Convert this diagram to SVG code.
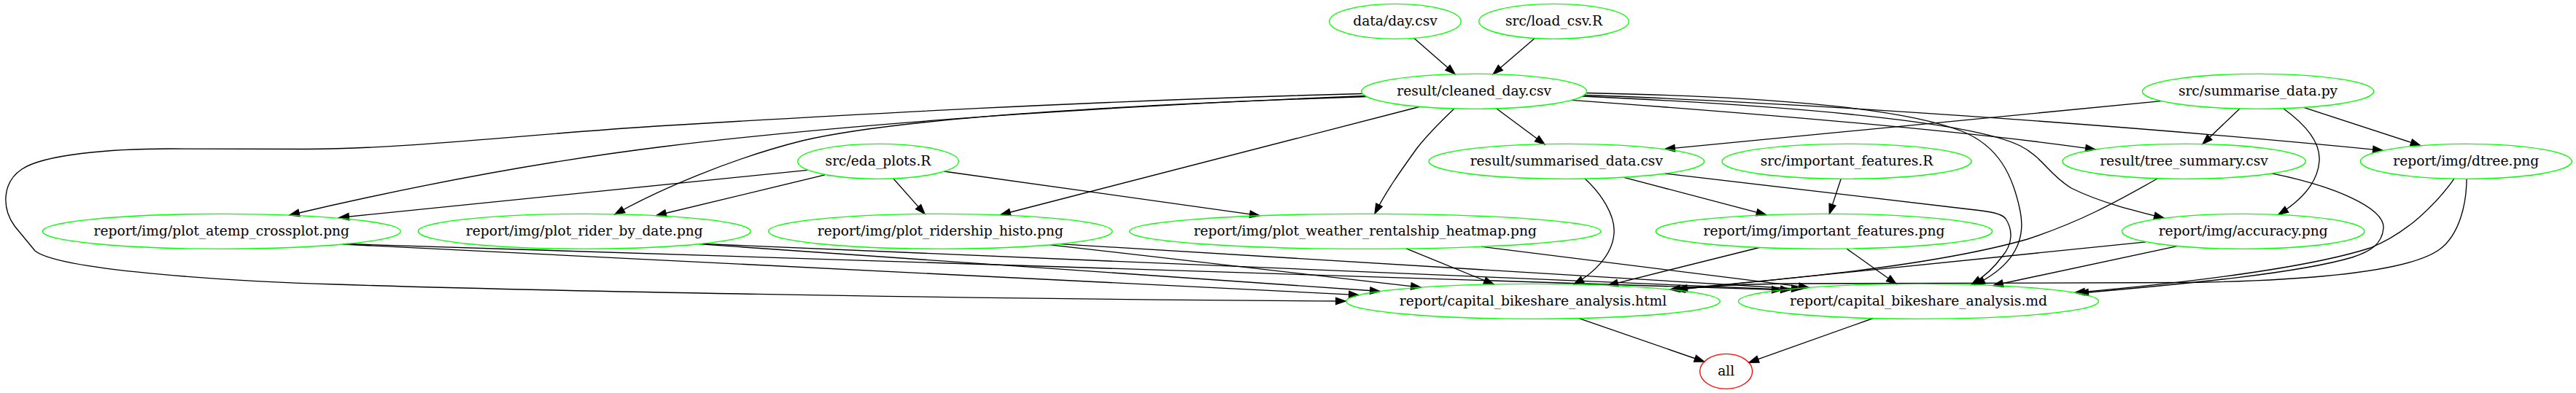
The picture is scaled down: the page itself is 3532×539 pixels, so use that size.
<svg xmlns="http://www.w3.org/2000/svg" width="3532" height="539" viewBox="0 0 3532 539">
<style>
.node ellipse{fill:none;stroke:#00ff00;stroke-width:1.33}
.node.red ellipse{stroke:#ff0000}
.node text{font-family:"DejaVu Serif",serif;font-size:18.67px;text-anchor:middle;fill:#000}
.edges path{fill:none;stroke:#000;stroke-width:1.33;marker-end:url(#arrow)}
</style>
<defs>
<marker id="arrow" markerUnits="userSpaceOnUse" markerWidth="16" markerHeight="12" refX="13.33" refY="4.67" orient="auto" overflow="visible">
<path d="M0,0 L13.33,4.67 L0,9.33 Z" fill="#000" stroke="#000" stroke-width="1.33"/>
</marker>
</defs>
<rect width="3532" height="539" fill="#fff"/>
<g class="edges">
<path d="M1939,52.4 L1995,101.6"/>
<path d="M2104.3,52.4 L2047.3,101.6"/>
<path d="M2052,149 L2118,198"/>
<path d="M1994,149 C1975,167 1958,184 1943,203 C1920,235 1900,263 1885,293"/>
<path d="M1946,146.5 L1372,294.5"/>
<path d="M1872,131.5 C1600,142 1200,165 910,201 C700,227 520,266 397,295"/>
<path d="M1874,132.5 C1600,142 1250,158 1100,193 C1000,218 900,262 843,294"/>
<path d="M1868,128.5 C1500,138 1150,158 900,173 C700,186 560,204 420,204.5 L233,204 C150,204 60,212 30,232 C3,250 2,285 20,310 L48,344 C80,370 300,385 460,390 C700,398 1300,410 1845,413"/>
<path d="M1107,233.4 L465,298.5"/>
<path d="M1131,239.9 L900,295.5"/>
<path d="M1225,245 L1268,293.6"/>
<path d="M1294.3,235 L1727,295.6"/>
<path d="M2963,138.7 L2283,204.4"/>
<path d="M3071,149 L3020,197.5"/>
<path d="M3158.7,147.3 L3318.7,199.6"/>
<path d="M3131,149 C3160,170 3182,195 3180,221 C3178,250 3155,275 3124,294.3"/>
<path d="M2155,137.3 C2400,155 2700,180 2873,205"/>
<path d="M2172,130.5 C2450,140 2900,170 3267,206.3"/>
<path d="M2170,132 C2450,145 2700,165 2770,200 C2800,215 2810,240 2840,258 C2880,278 2930,290 2967,299"/>
<path d="M2175,127.5 C2400,132 2600,145 2690,180 C2740,200 2760,240 2770,290 C2778,330 2760,365 2708,390.5"/>
<path d="M2226.7,243.3 L2421.7,294.7"/>
<path d="M2524.3,245 L2508.3,293.4"/>
<path d="M2173,245 C2195,265 2215,295 2213,320 C2211,350 2185,375 2158,389.9"/>
<path d="M2283,238 L2700,287 C2730,290 2745,293 2750,300 C2760,315 2760,335 2745,352 C2735,366 2720,380 2703,390.4"/>
<path d="M2985,337.6 L2733,391.5"/>
<path d="M2942,331.8 L2297,397.7"/>
<path d="M2958,245 C2900,278 2850,305 2780,328 C2650,365 2450,383 2290,397"/>
<path d="M3115,237.8 C3200,255 3270,285 3268,313 C3266,335 3250,345 3225,353 C3140,378 2950,393 2850,402.3"/>
<path d="M3365,245.2 C3340,280 3300,320 3250,340 C3150,372 2950,392 2845,401.4"/>
<path d="M3382,245.3 C3382,280 3372,322 3345,342 C3300,375 3150,385 3000,387.5 L2450,389 C2380,390 2330,393 2300,397.3"/>
<path d="M470,335 L1863,404.6"/>
<path d="M475,334.5 L2443,397.7"/>
<path d="M958,334.7 L1892,399.5"/>
<path d="M963,334.4 L2455,397.5"/>
<path d="M1440,335.8 L1948,394.1"/>
<path d="M1453,334.6 L2470,396.5"/>
<path d="M1928,340.9 L2048,389.8"/>
<path d="M2031,338.2 L2480,394.3"/>
<path d="M2412.3,339.5 L2205,391.3"/>
<path d="M2532,341.1 L2600,389.5"/>
<path d="M2165,436.6 L2336.7,496"/>
<path d="M2568.3,436.5 L2398,497.2"/>
</g>
<g id="n_data_day" class="node"><ellipse cx="1913" cy="29.3" rx="90.3" ry="24"/><text x="1913" y="35.3">data/day.csv</text></g>
<g id="n_load_csv" class="node"><ellipse cx="2130.5" cy="29.3" rx="102.8" ry="24"/><text x="2130.5" y="35.3">src/load_csv.R</text></g>
<g id="n_cleaned" class="node"><ellipse cx="2021.2" cy="125.3" rx="154.5" ry="24"/><text x="2021.2" y="131.3">result/cleaned_day.csv</text></g>
<g id="n_summarise_py" class="node"><ellipse cx="3096" cy="125.3" rx="158.7" ry="24"/><text x="3096" y="131.3">src/summarise_data.py</text></g>
<g id="n_eda" class="node"><ellipse cx="1204" cy="221.3" rx="110.3" ry="24"/><text x="1204" y="227.3">src/eda_plots.R</text></g>
<g id="n_summarised" class="node"><ellipse cx="2147.8" cy="221.3" rx="188.8" ry="24"/><text x="2147.8" y="227.3">result/summarised_data.csv</text></g>
<g id="n_impR" class="node"><ellipse cx="2532" cy="221.3" rx="171" ry="24"/><text x="2532" y="227.3">src/important_features.R</text></g>
<g id="n_tree" class="node"><ellipse cx="2994.5" cy="221.3" rx="166.8" ry="24"/><text x="2994.5" y="227.3">result/tree_summary.csv</text></g>
<g id="n_dtree" class="node"><ellipse cx="3381.3" cy="221.3" rx="145" ry="24"/><text x="3381.3" y="227.3">report/img/dtree.png</text></g>
<g id="n_atemp" class="node"><ellipse cx="303.8" cy="317.3" rx="245.5" ry="24"/><text x="303.8" y="323.3">report/img/plot_atemp_crossplot.png</text></g>
<g id="n_rider" class="node"><ellipse cx="801.3" cy="317.3" rx="228" ry="24"/><text x="801.3" y="323.3">report/img/plot_rider_by_date.png</text></g>
<g id="n_histo" class="node"><ellipse cx="1289.3" cy="317.3" rx="235.7" ry="24"/><text x="1289.3" y="323.3">report/img/plot_ridership_histo.png</text></g>
<g id="n_weather" class="node"><ellipse cx="1871.8" cy="317.3" rx="323.2" ry="24"/><text x="1871.8" y="323.3">report/img/plot_weather_rentalship_heatmap.png</text></g>
<g id="n_imppng" class="node"><ellipse cx="2501" cy="317.3" rx="230.7" ry="24"/><text x="2501" y="323.3">report/img/important_features.png</text></g>
<g id="n_accuracy" class="node"><ellipse cx="3075.7" cy="317.3" rx="166.3" ry="24"/><text x="3075.7" y="323.3">report/img/accuracy.png</text></g>
<g id="n_html" class="node"><ellipse cx="2102" cy="413.3" rx="256.3" ry="24"/><text x="2102" y="419.3">report/capital_bikeshare_analysis.html</text></g>
<g id="n_md" class="node"><ellipse cx="2630.5" cy="413.3" rx="247" ry="24"/><text x="2630.5" y="419.3">report/capital_bikeshare_analysis.md</text></g>
<g id="n_all" class="node red"><ellipse cx="2366.7" cy="509.3" rx="36" ry="24"/><text x="2366.7" y="515.3">all</text></g>
</svg>
